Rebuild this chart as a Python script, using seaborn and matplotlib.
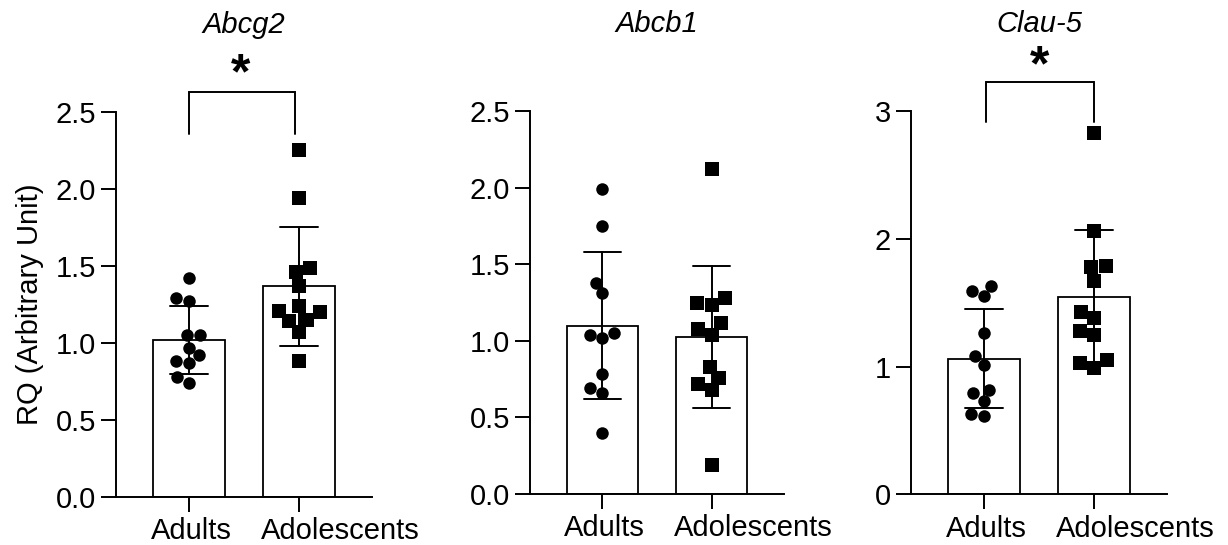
import numpy as np
import pandas as pd
import matplotlib
matplotlib.use("Agg")
from matplotlib import pyplot as plt
from matplotlib.transforms import ScaledTranslation
import seaborn as sns

#Data (RQ values per animal)
groups = ["Adults", "Adolescents"]
genes = ["Abcg2", "Abcb1", "Clau-5"]

abcg2_adults = [1.42, 1.27, 1.29, 1.05, 1.05, 0.97, 0.92, 0.88, 0.87, 0.78, 0.74]
abcg2_adolescents = [2.25, 1.94, 1.49, 1.46, 1.37, 1.20, 1.21, 1.24, 1.15, 1.14, 1.07, 0.885]

abcb1_adults = [1.99, 1.75, 1.38, 1.31, 1.05, 1.02, 1.04, 0.78, 0.69, 0.66, 0.40]
abcb1_adolescents = [2.12, 1.28, 1.235, 1.245, 1.115, 1.08, 1.04, 0.83, 0.76, 0.72, 0.68, 0.19]

clau5_adults = [1.55, 1.59, 1.63, 1.26, 1.08, 1.01, 0.82, 0.79, 0.73, 0.61, 0.63]
clau5_adolescents = [2.83, 2.06, 1.79, 1.78, 1.67, 1.43, 1.38, 1.28, 1.25, 1.05, 1.03, 0.99]

yticks = [[0, 0.5, 1.0, 1.5, 2.0, 2.5], [0, 0.5, 1.0, 1.5, 2.0, 2.5], [0, 1, 2, 3]]
ytick_labels = [["0.0", "0.5", "1.0", "1.5", "2.0", "2.5"],
                ["0.0", "0.5", "1.0", "1.5", "2.0", "2.5"],
                ["0", "1", "2", "3"]]
stars = ["*", None, "*"]

#Preferences
sns.set_style("ticks")
plt.rcParams["font.family"] = ["Liberation Sans", "DejaVu Sans"]
plt.rcParams["text.color"] = "black"
plt.rcParams["axes.labelcolor"] = "black"
fs = 21
lw = 1.4

def makeFrame(adults, adolescents):
    return pd.DataFrame({
        "group": ["Adults"] * len(adults) + ["Adolescents"] * len(adolescents),
        "rq": adults + adolescents,
    })

frames = [makeFrame(abcg2_adults, abcg2_adolescents),
          makeFrame(abcb1_adults, abcb1_adolescents),
          makeFrame(clau5_adults, clau5_adolescents)]

fig = plt.figure(figsize=(12.28, 5.45), dpi=100)
rects = [[0.0945, 0.0881, 0.2085, 0.7064],
         [0.4316, 0.0936, 0.2068, 0.7028],
         [0.7418, 0.0927, 0.2085, 0.7037]]
#bracket geometry per panel: (x0, x1, y_bottom, y_top, star_x, star_y)
brackets = [(0.0, 0.96, 2.36, 2.63, 0.47, 2.74), None, (0.02, 1.0, 2.91, 3.23, 0.51, 3.34)]
shift = ScaledTranslation(-38 / 100, 0, fig.dpi_scale_trans)

for i, gene in enumerate(genes):
    ax = fig.add_axes(rects[i])
    df = frames[i]
    sns.barplot(data=df, x="group", y="rq", order=groups, errorbar="sd",
                color="white", edgecolor="black", linewidth=1.3, width=0.65,
                capsize=0.34, err_kws={"color": "black", "linewidth": lw}, ax=ax)
    sns.swarmplot(data=df[df["group"] == "Adults"], x="group", y="rq", order=groups,
                  color="black", marker="o", size=9, linewidth=0, zorder=3, ax=ax)
    sns.swarmplot(data=df[df["group"] == "Adolescents"], x="group", y="rq", order=groups,
                  color="black", marker="s", size=10.3, linewidth=0, zorder=3, ax=ax)
    ax.set_xlim(-0.66, 1.66)
    ax.set_ylim(yticks[i][0], yticks[i][-1])
    ax.set_yticks(yticks[i])
    ax.set_yticklabels(ytick_labels[i])
    ax.set_xlabel("")
    ax.set_ylabel("RQ (Arbitrary Unit)" if i == 0 else "", fontsize=fs, labelpad=8,
                  color="black")
    ax.tick_params(labelsize=fs, length=11, width=lw, color="black", labelcolor="black")
    for lab in ax.get_xticklabels():
        lab.set_horizontalalignment("left")
        lab.set_transform(lab.get_transform() + shift)
    for side in ["left", "bottom"]:
        ax.spines[side].set_linewidth(lw)
        ax.spines[side].set_color("black")
    sns.despine(ax=ax)
    ax.set_title(gene, fontsize=fs, style="italic", pad=57, color="black")
    b = brackets[i]
    if b is not None:
        x0, x1, yb, yt, sx, sy = b
        ax.plot([x0, x0, x1, x1], [yb, yt, yt, yb], color="black", linewidth=lw,
                clip_on=False, solid_joinstyle="miter")
        ax.text(sx, sy, stars[i], fontsize=36, fontweight="bold", ha="center",
                va="center", clip_on=False, color="black")

plt.savefig("out.png", dpi=100)
plt.close()
